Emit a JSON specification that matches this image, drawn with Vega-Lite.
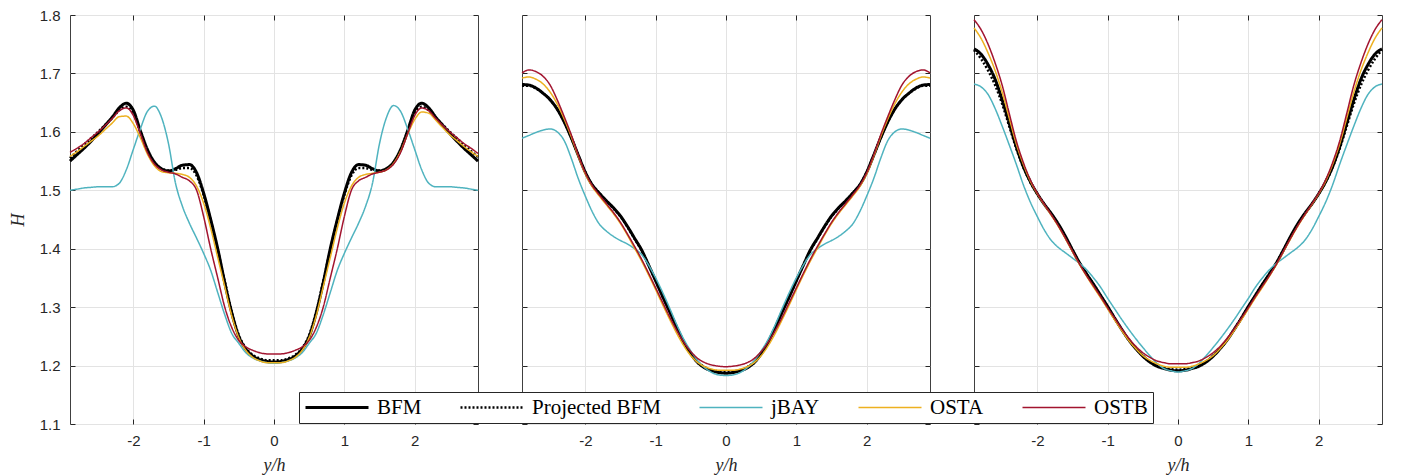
{
"$schema":"https://vega.github.io/schema/vega-lite/v6.json",
"background":"white",
"padding":{"left":8,"top":7,"right":5,"bottom":0},
"spacing":44,
"bounds":"flush",
"config":{
 "view":{"stroke":"#404040","strokeWidth":1},
 "axis":{"labelFont":"Liberation Sans","labelFontSize":15,"labelColor":"#262626","tickColor":"#262626","tickSize":-5,"domain":false,"gridColor":"#e3e3e3","gridWidth":1,"titleFont":"Liberation Serif","titleFontStyle":"italic","titleFontWeight":"normal","titleFontSize":18,"titleColor":"#262626"},
 "legend":{"orient":"none","legendX":229,"legendY":377,"direction":"horizontal","columns":5,"symbolType":"stroke","symbolSize":3969,"clipHeight":21,"labelFont":"Liberation Serif","labelFontSize":21,"labelColor":"black","strokeColor":"#262626","fillColor":"white","padding":5,"columnPadding":37,"labelOffset":7,"title":null},
 "line":{"interpolate":"monotone"}
},
"datasets":{"d":[
{"p":1,"x":-2.9,"BFM":1.550,"Projected BFM":1.555,"jBAY":1.500,"OSTA":1.558,"OSTB":1.565},
{"p":1,"x":-2.8,"BFM":1.561,"Projected BFM":1.567,"jBAY":1.502,"OSTA":1.566,"OSTB":1.572},
{"p":1,"x":-2.7,"BFM":1.572,"Projected BFM":1.578,"jBAY":1.504,"OSTA":1.575,"OSTB":1.580},
{"p":1,"x":-2.6,"BFM":1.584,"Projected BFM":1.589,"jBAY":1.505,"OSTA":1.584,"OSTB":1.590},
{"p":1,"x":-2.5,"BFM":1.597,"Projected BFM":1.600,"jBAY":1.506,"OSTA":1.593,"OSTB":1.600},
{"p":1,"x":-2.4,"BFM":1.611,"Projected BFM":1.612,"jBAY":1.506,"OSTA":1.604,"OSTB":1.611},
{"p":1,"x":-2.3,"BFM":1.625,"Projected BFM":1.624,"jBAY":1.506,"OSTA":1.615,"OSTB":1.623},
{"p":1,"x":-2.2,"BFM":1.641,"Projected BFM":1.637,"jBAY":1.512,"OSTA":1.626,"OSTB":1.636},
{"p":1,"x":-2.1,"BFM":1.649,"Projected BFM":1.643,"jBAY":1.535,"OSTA":1.627,"OSTB":1.641},
{"p":1,"x":-2.0,"BFM":1.637,"Projected BFM":1.632,"jBAY":1.570,"OSTA":1.614,"OSTB":1.628},
{"p":1,"x":-1.9,"BFM":1.602,"Projected BFM":1.600,"jBAY":1.605,"OSTA":1.590,"OSTB":1.597},
{"p":1,"x":-1.8,"BFM":1.570,"Projected BFM":1.568,"jBAY":1.635,"OSTA":1.562,"OSTB":1.565},
{"p":1,"x":-1.7,"BFM":1.548,"Projected BFM":1.547,"jBAY":1.644,"OSTA":1.542,"OSTB":1.545},
{"p":1,"x":-1.6,"BFM":1.537,"Projected BFM":1.537,"jBAY":1.625,"OSTA":1.532,"OSTB":1.535},
{"p":1,"x":-1.5,"BFM":1.533,"Projected BFM":1.534,"jBAY":1.580,"OSTA":1.530,"OSTB":1.531},
{"p":1,"x":-1.4,"BFM":1.537,"Projected BFM":1.535,"jBAY":1.512,"OSTA":1.529,"OSTB":1.528},
{"p":1,"x":-1.3,"BFM":1.543,"Projected BFM":1.538,"jBAY":1.472,"OSTA":1.527,"OSTB":1.522},
{"p":1,"x":-1.2,"BFM":1.544,"Projected BFM":1.538,"jBAY":1.443,"OSTA":1.522,"OSTB":1.516},
{"p":1,"x":-1.1,"BFM":1.530,"Projected BFM":1.525,"jBAY":1.418,"OSTA":1.507,"OSTB":1.500},
{"p":1,"x":-1.0,"BFM":1.495,"Projected BFM":1.492,"jBAY":1.392,"OSTA":1.478,"OSTB":1.455},
{"p":1,"x":-0.9,"BFM":1.450,"Projected BFM":1.448,"jBAY":1.363,"OSTA":1.435,"OSTB":1.400},
{"p":1,"x":-0.8,"BFM":1.400,"Projected BFM":1.398,"jBAY":1.325,"OSTA":1.385,"OSTB":1.350},
{"p":1,"x":-0.7,"BFM":1.342,"Projected BFM":1.344,"jBAY":1.287,"OSTA":1.335,"OSTB":1.300},
{"p":1,"x":-0.6,"BFM":1.290,"Projected BFM":1.292,"jBAY":1.255,"OSTA":1.285,"OSTB":1.265},
{"p":1,"x":-0.5,"BFM":1.250,"Projected BFM":1.252,"jBAY":1.238,"OSTA":1.248,"OSTB":1.243},
{"p":1,"x":-0.4,"BFM":1.228,"Projected BFM":1.230,"jBAY":1.222,"OSTA":1.226,"OSTB":1.232},
{"p":1,"x":-0.3,"BFM":1.216,"Projected BFM":1.218,"jBAY":1.213,"OSTA":1.214,"OSTB":1.226},
{"p":1,"x":-0.2,"BFM":1.210,"Projected BFM":1.212,"jBAY":1.208,"OSTA":1.208,"OSTB":1.222},
{"p":1,"x":-0.1,"BFM":1.207,"Projected BFM":1.209,"jBAY":1.205,"OSTA":1.205,"OSTB":1.220},
{"p":1,"x":0.0,"BFM":1.206,"Projected BFM":1.209,"jBAY":1.204,"OSTA":1.205,"OSTB":1.220},
{"p":1,"x":0.1,"BFM":1.207,"Projected BFM":1.209,"jBAY":1.205,"OSTA":1.205,"OSTB":1.220},
{"p":1,"x":0.2,"BFM":1.210,"Projected BFM":1.212,"jBAY":1.208,"OSTA":1.208,"OSTB":1.222},
{"p":1,"x":0.3,"BFM":1.216,"Projected BFM":1.218,"jBAY":1.213,"OSTA":1.214,"OSTB":1.226},
{"p":1,"x":0.4,"BFM":1.228,"Projected BFM":1.230,"jBAY":1.222,"OSTA":1.226,"OSTB":1.232},
{"p":1,"x":0.5,"BFM":1.250,"Projected BFM":1.252,"jBAY":1.238,"OSTA":1.248,"OSTB":1.243},
{"p":1,"x":0.6,"BFM":1.290,"Projected BFM":1.292,"jBAY":1.255,"OSTA":1.285,"OSTB":1.265},
{"p":1,"x":0.7,"BFM":1.342,"Projected BFM":1.344,"jBAY":1.287,"OSTA":1.335,"OSTB":1.300},
{"p":1,"x":0.8,"BFM":1.400,"Projected BFM":1.398,"jBAY":1.325,"OSTA":1.385,"OSTB":1.350},
{"p":1,"x":0.9,"BFM":1.450,"Projected BFM":1.448,"jBAY":1.363,"OSTA":1.435,"OSTB":1.400},
{"p":1,"x":1.0,"BFM":1.495,"Projected BFM":1.492,"jBAY":1.392,"OSTA":1.478,"OSTB":1.455},
{"p":1,"x":1.1,"BFM":1.530,"Projected BFM":1.525,"jBAY":1.418,"OSTA":1.507,"OSTB":1.500},
{"p":1,"x":1.2,"BFM":1.544,"Projected BFM":1.538,"jBAY":1.443,"OSTA":1.522,"OSTB":1.516},
{"p":1,"x":1.3,"BFM":1.543,"Projected BFM":1.538,"jBAY":1.472,"OSTA":1.527,"OSTB":1.522},
{"p":1,"x":1.4,"BFM":1.537,"Projected BFM":1.535,"jBAY":1.512,"OSTA":1.529,"OSTB":1.528},
{"p":1,"x":1.5,"BFM":1.533,"Projected BFM":1.534,"jBAY":1.580,"OSTA":1.531,"OSTB":1.531},
{"p":1,"x":1.6,"BFM":1.537,"Projected BFM":1.537,"jBAY":1.625,"OSTA":1.535,"OSTB":1.535},
{"p":1,"x":1.7,"BFM":1.548,"Projected BFM":1.547,"jBAY":1.645,"OSTA":1.546,"OSTB":1.545},
{"p":1,"x":1.8,"BFM":1.570,"Projected BFM":1.568,"jBAY":1.635,"OSTA":1.567,"OSTB":1.565},
{"p":1,"x":1.9,"BFM":1.602,"Projected BFM":1.600,"jBAY":1.605,"OSTA":1.596,"OSTB":1.597},
{"p":1,"x":2.0,"BFM":1.637,"Projected BFM":1.632,"jBAY":1.570,"OSTA":1.621,"OSTB":1.628},
{"p":1,"x":2.1,"BFM":1.649,"Projected BFM":1.643,"jBAY":1.535,"OSTA":1.634,"OSTB":1.641},
{"p":1,"x":2.2,"BFM":1.641,"Projected BFM":1.637,"jBAY":1.512,"OSTA":1.632,"OSTB":1.636},
{"p":1,"x":2.3,"BFM":1.625,"Projected BFM":1.624,"jBAY":1.506,"OSTA":1.620,"OSTB":1.623},
{"p":1,"x":2.4,"BFM":1.611,"Projected BFM":1.612,"jBAY":1.506,"OSTA":1.607,"OSTB":1.611},
{"p":1,"x":2.5,"BFM":1.597,"Projected BFM":1.600,"jBAY":1.506,"OSTA":1.595,"OSTB":1.600},
{"p":1,"x":2.6,"BFM":1.584,"Projected BFM":1.589,"jBAY":1.505,"OSTA":1.585,"OSTB":1.590},
{"p":1,"x":2.7,"BFM":1.572,"Projected BFM":1.578,"jBAY":1.504,"OSTA":1.575,"OSTB":1.580},
{"p":1,"x":2.8,"BFM":1.561,"Projected BFM":1.567,"jBAY":1.502,"OSTA":1.566,"OSTB":1.572},
{"p":1,"x":2.9,"BFM":1.550,"Projected BFM":1.557,"jBAY":1.500,"OSTA":1.558,"OSTB":1.563},
{"p":2,"x":-2.9,"BFM":1.681,"Projected BFM":1.679,"jBAY":1.589,"OSTA":1.692,"OSTB":1.701},
{"p":2,"x":-2.8,"BFM":1.680,"Projected BFM":1.679,"jBAY":1.594,"OSTA":1.694,"OSTB":1.706},
{"p":2,"x":-2.7,"BFM":1.675,"Projected BFM":1.674,"jBAY":1.599,"OSTA":1.690,"OSTB":1.703},
{"p":2,"x":-2.6,"BFM":1.666,"Projected BFM":1.666,"jBAY":1.603,"OSTA":1.682,"OSTB":1.695},
{"p":2,"x":-2.5,"BFM":1.655,"Projected BFM":1.655,"jBAY":1.605,"OSTA":1.668,"OSTB":1.680},
{"p":2,"x":-2.4,"BFM":1.639,"Projected BFM":1.639,"jBAY":1.600,"OSTA":1.648,"OSTB":1.655},
{"p":2,"x":-2.3,"BFM":1.617,"Projected BFM":1.617,"jBAY":1.585,"OSTA":1.622,"OSTB":1.626},
{"p":2,"x":-2.2,"BFM":1.590,"Projected BFM":1.590,"jBAY":1.555,"OSTA":1.592,"OSTB":1.595},
{"p":2,"x":-2.1,"BFM":1.560,"Projected BFM":1.560,"jBAY":1.520,"OSTA":1.558,"OSTB":1.560},
{"p":2,"x":-2.0,"BFM":1.531,"Projected BFM":1.531,"jBAY":1.490,"OSTA":1.528,"OSTB":1.530},
{"p":2,"x":-1.9,"BFM":1.509,"Projected BFM":1.509,"jBAY":1.463,"OSTA":1.506,"OSTB":1.508},
{"p":2,"x":-1.8,"BFM":1.495,"Projected BFM":1.495,"jBAY":1.442,"OSTA":1.490,"OSTB":1.492},
{"p":2,"x":-1.7,"BFM":1.482,"Projected BFM":1.482,"jBAY":1.430,"OSTA":1.475,"OSTB":1.477},
{"p":2,"x":-1.6,"BFM":1.470,"Projected BFM":1.469,"jBAY":1.421,"OSTA":1.460,"OSTB":1.462},
{"p":2,"x":-1.5,"BFM":1.456,"Projected BFM":1.455,"jBAY":1.414,"OSTA":1.443,"OSTB":1.445},
{"p":2,"x":-1.4,"BFM":1.438,"Projected BFM":1.437,"jBAY":1.408,"OSTA":1.423,"OSTB":1.425},
{"p":2,"x":-1.3,"BFM":1.418,"Projected BFM":1.417,"jBAY":1.400,"OSTA":1.401,"OSTB":1.404},
{"p":2,"x":-1.2,"BFM":1.398,"Projected BFM":1.397,"jBAY":1.390,"OSTA":1.379,"OSTB":1.382},
{"p":2,"x":-1.1,"BFM":1.372,"Projected BFM":1.372,"jBAY":1.372,"OSTA":1.355,"OSTB":1.358},
{"p":2,"x":-1.0,"BFM":1.345,"Projected BFM":1.345,"jBAY":1.350,"OSTA":1.330,"OSTB":1.333},
{"p":2,"x":-0.9,"BFM":1.318,"Projected BFM":1.318,"jBAY":1.325,"OSTA":1.304,"OSTB":1.308},
{"p":2,"x":-0.8,"BFM":1.292,"Projected BFM":1.292,"jBAY":1.298,"OSTA":1.279,"OSTB":1.283},
{"p":2,"x":-0.7,"BFM":1.265,"Projected BFM":1.266,"jBAY":1.270,"OSTA":1.255,"OSTB":1.260},
{"p":2,"x":-0.6,"BFM":1.240,"Projected BFM":1.241,"jBAY":1.245,"OSTA":1.234,"OSTB":1.240},
{"p":2,"x":-0.5,"BFM":1.220,"Projected BFM":1.221,"jBAY":1.225,"OSTA":1.217,"OSTB":1.224},
{"p":2,"x":-0.4,"BFM":1.205,"Projected BFM":1.206,"jBAY":1.208,"OSTA":1.205,"OSTB":1.212},
{"p":2,"x":-0.3,"BFM":1.196,"Projected BFM":1.197,"jBAY":1.196,"OSTA":1.198,"OSTB":1.205},
{"p":2,"x":-0.2,"BFM":1.191,"Projected BFM":1.192,"jBAY":1.188,"OSTA":1.194,"OSTB":1.201},
{"p":2,"x":-0.1,"BFM":1.188,"Projected BFM":1.190,"jBAY":1.184,"OSTA":1.192,"OSTB":1.199},
{"p":2,"x":0.0,"BFM":1.187,"Projected BFM":1.189,"jBAY":1.183,"OSTA":1.192,"OSTB":1.198},
{"p":2,"x":0.1,"BFM":1.188,"Projected BFM":1.190,"jBAY":1.184,"OSTA":1.192,"OSTB":1.199},
{"p":2,"x":0.2,"BFM":1.191,"Projected BFM":1.192,"jBAY":1.188,"OSTA":1.194,"OSTB":1.201},
{"p":2,"x":0.3,"BFM":1.196,"Projected BFM":1.197,"jBAY":1.196,"OSTA":1.198,"OSTB":1.205},
{"p":2,"x":0.4,"BFM":1.205,"Projected BFM":1.206,"jBAY":1.208,"OSTA":1.205,"OSTB":1.212},
{"p":2,"x":0.5,"BFM":1.220,"Projected BFM":1.221,"jBAY":1.225,"OSTA":1.217,"OSTB":1.224},
{"p":2,"x":0.6,"BFM":1.240,"Projected BFM":1.241,"jBAY":1.245,"OSTA":1.234,"OSTB":1.240},
{"p":2,"x":0.7,"BFM":1.265,"Projected BFM":1.266,"jBAY":1.270,"OSTA":1.255,"OSTB":1.260},
{"p":2,"x":0.8,"BFM":1.292,"Projected BFM":1.292,"jBAY":1.298,"OSTA":1.279,"OSTB":1.283},
{"p":2,"x":0.9,"BFM":1.318,"Projected BFM":1.318,"jBAY":1.325,"OSTA":1.304,"OSTB":1.308},
{"p":2,"x":1.0,"BFM":1.345,"Projected BFM":1.345,"jBAY":1.350,"OSTA":1.330,"OSTB":1.333},
{"p":2,"x":1.1,"BFM":1.372,"Projected BFM":1.372,"jBAY":1.372,"OSTA":1.355,"OSTB":1.358},
{"p":2,"x":1.2,"BFM":1.398,"Projected BFM":1.397,"jBAY":1.390,"OSTA":1.379,"OSTB":1.382},
{"p":2,"x":1.3,"BFM":1.418,"Projected BFM":1.417,"jBAY":1.400,"OSTA":1.401,"OSTB":1.404},
{"p":2,"x":1.4,"BFM":1.438,"Projected BFM":1.437,"jBAY":1.408,"OSTA":1.423,"OSTB":1.425},
{"p":2,"x":1.5,"BFM":1.456,"Projected BFM":1.455,"jBAY":1.414,"OSTA":1.443,"OSTB":1.445},
{"p":2,"x":1.6,"BFM":1.470,"Projected BFM":1.469,"jBAY":1.421,"OSTA":1.460,"OSTB":1.462},
{"p":2,"x":1.7,"BFM":1.482,"Projected BFM":1.482,"jBAY":1.430,"OSTA":1.475,"OSTB":1.477},
{"p":2,"x":1.8,"BFM":1.495,"Projected BFM":1.495,"jBAY":1.442,"OSTA":1.490,"OSTB":1.492},
{"p":2,"x":1.9,"BFM":1.509,"Projected BFM":1.509,"jBAY":1.463,"OSTA":1.506,"OSTB":1.508},
{"p":2,"x":2.0,"BFM":1.531,"Projected BFM":1.531,"jBAY":1.490,"OSTA":1.528,"OSTB":1.530},
{"p":2,"x":2.1,"BFM":1.560,"Projected BFM":1.560,"jBAY":1.520,"OSTA":1.558,"OSTB":1.560},
{"p":2,"x":2.2,"BFM":1.590,"Projected BFM":1.590,"jBAY":1.555,"OSTA":1.592,"OSTB":1.595},
{"p":2,"x":2.3,"BFM":1.617,"Projected BFM":1.617,"jBAY":1.585,"OSTA":1.622,"OSTB":1.626},
{"p":2,"x":2.4,"BFM":1.639,"Projected BFM":1.639,"jBAY":1.600,"OSTA":1.648,"OSTB":1.655},
{"p":2,"x":2.5,"BFM":1.655,"Projected BFM":1.655,"jBAY":1.605,"OSTA":1.668,"OSTB":1.680},
{"p":2,"x":2.6,"BFM":1.666,"Projected BFM":1.666,"jBAY":1.603,"OSTA":1.682,"OSTB":1.695},
{"p":2,"x":2.7,"BFM":1.675,"Projected BFM":1.674,"jBAY":1.599,"OSTA":1.690,"OSTB":1.703},
{"p":2,"x":2.8,"BFM":1.680,"Projected BFM":1.679,"jBAY":1.594,"OSTA":1.694,"OSTB":1.706},
{"p":2,"x":2.9,"BFM":1.681,"Projected BFM":1.679,"jBAY":1.589,"OSTA":1.692,"OSTB":1.701},
{"p":3,"x":-2.9,"BFM":1.742,"Projected BFM":1.740,"jBAY":1.682,"OSTA":1.778,"OSTB":1.792},
{"p":3,"x":-2.8,"BFM":1.733,"Projected BFM":1.725,"jBAY":1.677,"OSTA":1.760,"OSTB":1.775},
{"p":3,"x":-2.7,"BFM":1.715,"Projected BFM":1.705,"jBAY":1.664,"OSTA":1.735,"OSTB":1.750},
{"p":3,"x":-2.6,"BFM":1.690,"Projected BFM":1.680,"jBAY":1.640,"OSTA":1.705,"OSTB":1.718},
{"p":3,"x":-2.5,"BFM":1.655,"Projected BFM":1.648,"jBAY":1.610,"OSTA":1.668,"OSTB":1.680},
{"p":3,"x":-2.4,"BFM":1.615,"Projected BFM":1.610,"jBAY":1.578,"OSTA":1.624,"OSTB":1.632},
{"p":3,"x":-2.3,"BFM":1.575,"Projected BFM":1.572,"jBAY":1.545,"OSTA":1.580,"OSTB":1.585},
{"p":3,"x":-2.2,"BFM":1.541,"Projected BFM":1.540,"jBAY":1.510,"OSTA":1.545,"OSTB":1.548},
{"p":3,"x":-2.1,"BFM":1.515,"Projected BFM":1.514,"jBAY":1.480,"OSTA":1.516,"OSTB":1.518},
{"p":3,"x":-2.0,"BFM":1.494,"Projected BFM":1.494,"jBAY":1.455,"OSTA":1.494,"OSTB":1.495},
{"p":3,"x":-1.9,"BFM":1.476,"Projected BFM":1.476,"jBAY":1.432,"OSTA":1.475,"OSTB":1.476},
{"p":3,"x":-1.8,"BFM":1.460,"Projected BFM":1.459,"jBAY":1.414,"OSTA":1.457,"OSTB":1.458},
{"p":3,"x":-1.7,"BFM":1.442,"Projected BFM":1.441,"jBAY":1.402,"OSTA":1.438,"OSTB":1.439},
{"p":3,"x":-1.6,"BFM":1.421,"Projected BFM":1.420,"jBAY":1.393,"OSTA":1.417,"OSTB":1.418},
{"p":3,"x":-1.5,"BFM":1.398,"Projected BFM":1.398,"jBAY":1.384,"OSTA":1.395,"OSTB":1.396},
{"p":3,"x":-1.4,"BFM":1.376,"Projected BFM":1.376,"jBAY":1.375,"OSTA":1.373,"OSTB":1.374},
{"p":3,"x":-1.3,"BFM":1.357,"Projected BFM":1.357,"jBAY":1.364,"OSTA":1.353,"OSTB":1.354},
{"p":3,"x":-1.2,"BFM":1.339,"Projected BFM":1.339,"jBAY":1.350,"OSTA":1.334,"OSTB":1.336},
{"p":3,"x":-1.1,"BFM":1.320,"Projected BFM":1.320,"jBAY":1.334,"OSTA":1.316,"OSTB":1.318},
{"p":3,"x":-1.0,"BFM":1.301,"Projected BFM":1.301,"jBAY":1.315,"OSTA":1.297,"OSTB":1.299},
{"p":3,"x":-0.9,"BFM":1.281,"Projected BFM":1.281,"jBAY":1.297,"OSTA":1.278,"OSTB":1.281},
{"p":3,"x":-0.8,"BFM":1.262,"Projected BFM":1.262,"jBAY":1.279,"OSTA":1.260,"OSTB":1.263},
{"p":3,"x":-0.7,"BFM":1.244,"Projected BFM":1.244,"jBAY":1.262,"OSTA":1.243,"OSTB":1.247},
{"p":3,"x":-0.6,"BFM":1.229,"Projected BFM":1.229,"jBAY":1.246,"OSTA":1.229,"OSTB":1.233},
{"p":3,"x":-0.5,"BFM":1.216,"Projected BFM":1.217,"jBAY":1.231,"OSTA":1.217,"OSTB":1.222},
{"p":3,"x":-0.4,"BFM":1.206,"Projected BFM":1.207,"jBAY":1.217,"OSTA":1.209,"OSTB":1.214},
{"p":3,"x":-0.3,"BFM":1.199,"Projected BFM":1.200,"jBAY":1.204,"OSTA":1.203,"OSTB":1.208},
{"p":3,"x":-0.2,"BFM":1.195,"Projected BFM":1.196,"jBAY":1.195,"OSTA":1.199,"OSTB":1.205},
{"p":3,"x":-0.1,"BFM":1.192,"Projected BFM":1.194,"jBAY":1.191,"OSTA":1.197,"OSTB":1.203},
{"p":3,"x":0.0,"BFM":1.191,"Projected BFM":1.193,"jBAY":1.189,"OSTA":1.197,"OSTB":1.203},
{"p":3,"x":0.1,"BFM":1.192,"Projected BFM":1.194,"jBAY":1.191,"OSTA":1.197,"OSTB":1.203},
{"p":3,"x":0.2,"BFM":1.195,"Projected BFM":1.196,"jBAY":1.195,"OSTA":1.199,"OSTB":1.205},
{"p":3,"x":0.3,"BFM":1.199,"Projected BFM":1.200,"jBAY":1.204,"OSTA":1.203,"OSTB":1.208},
{"p":3,"x":0.4,"BFM":1.206,"Projected BFM":1.207,"jBAY":1.217,"OSTA":1.209,"OSTB":1.214},
{"p":3,"x":0.5,"BFM":1.216,"Projected BFM":1.217,"jBAY":1.231,"OSTA":1.217,"OSTB":1.222},
{"p":3,"x":0.6,"BFM":1.229,"Projected BFM":1.229,"jBAY":1.246,"OSTA":1.229,"OSTB":1.233},
{"p":3,"x":0.7,"BFM":1.244,"Projected BFM":1.244,"jBAY":1.262,"OSTA":1.243,"OSTB":1.247},
{"p":3,"x":0.8,"BFM":1.262,"Projected BFM":1.262,"jBAY":1.279,"OSTA":1.260,"OSTB":1.263},
{"p":3,"x":0.9,"BFM":1.281,"Projected BFM":1.281,"jBAY":1.297,"OSTA":1.278,"OSTB":1.281},
{"p":3,"x":1.0,"BFM":1.301,"Projected BFM":1.301,"jBAY":1.315,"OSTA":1.297,"OSTB":1.299},
{"p":3,"x":1.1,"BFM":1.320,"Projected BFM":1.320,"jBAY":1.334,"OSTA":1.316,"OSTB":1.318},
{"p":3,"x":1.2,"BFM":1.339,"Projected BFM":1.339,"jBAY":1.350,"OSTA":1.334,"OSTB":1.336},
{"p":3,"x":1.3,"BFM":1.357,"Projected BFM":1.357,"jBAY":1.364,"OSTA":1.353,"OSTB":1.354},
{"p":3,"x":1.4,"BFM":1.376,"Projected BFM":1.376,"jBAY":1.375,"OSTA":1.373,"OSTB":1.374},
{"p":3,"x":1.5,"BFM":1.398,"Projected BFM":1.398,"jBAY":1.384,"OSTA":1.395,"OSTB":1.396},
{"p":3,"x":1.6,"BFM":1.421,"Projected BFM":1.420,"jBAY":1.393,"OSTA":1.417,"OSTB":1.418},
{"p":3,"x":1.7,"BFM":1.442,"Projected BFM":1.441,"jBAY":1.402,"OSTA":1.438,"OSTB":1.439},
{"p":3,"x":1.8,"BFM":1.460,"Projected BFM":1.459,"jBAY":1.414,"OSTA":1.457,"OSTB":1.458},
{"p":3,"x":1.9,"BFM":1.476,"Projected BFM":1.476,"jBAY":1.432,"OSTA":1.475,"OSTB":1.476},
{"p":3,"x":2.0,"BFM":1.494,"Projected BFM":1.494,"jBAY":1.455,"OSTA":1.494,"OSTB":1.495},
{"p":3,"x":2.1,"BFM":1.515,"Projected BFM":1.514,"jBAY":1.480,"OSTA":1.516,"OSTB":1.518},
{"p":3,"x":2.2,"BFM":1.541,"Projected BFM":1.540,"jBAY":1.510,"OSTA":1.545,"OSTB":1.548},
{"p":3,"x":2.3,"BFM":1.575,"Projected BFM":1.572,"jBAY":1.545,"OSTA":1.580,"OSTB":1.585},
{"p":3,"x":2.4,"BFM":1.615,"Projected BFM":1.610,"jBAY":1.578,"OSTA":1.624,"OSTB":1.632},
{"p":3,"x":2.5,"BFM":1.655,"Projected BFM":1.648,"jBAY":1.610,"OSTA":1.668,"OSTB":1.680},
{"p":3,"x":2.6,"BFM":1.690,"Projected BFM":1.680,"jBAY":1.640,"OSTA":1.705,"OSTB":1.718},
{"p":3,"x":2.7,"BFM":1.715,"Projected BFM":1.705,"jBAY":1.664,"OSTA":1.735,"OSTB":1.750},
{"p":3,"x":2.8,"BFM":1.733,"Projected BFM":1.725,"jBAY":1.677,"OSTA":1.760,"OSTB":1.775},
{"p":3,"x":2.9,"BFM":1.742,"Projected BFM":1.740,"jBAY":1.682,"OSTA":1.778,"OSTB":1.792}
]},
"hconcat":[
{"width":408,"height":409,"data":{"name":"d"},
 "transform":[{"filter":"datum.p==1"},{"fold":["BFM","Projected BFM","jBAY","OSTA","OSTB"],"as":["s","h"]}],
 "layer":[
  {"mark":{"type":"line"},
   "encoding":{
    "x":{"field":"x","type":"quantitative","scale":{"domain":[-2.9,2.9],"nice":false,"zero":false},"axis":{"values":[-2,-1,0,1,2],"labelExpr":"replace(datum.label,'−','-')","title":"y/h","labelPadding":14,"titlePadding":8}},
    "y":{"field":"h","type":"quantitative","scale":{"domain":[1.1,1.8],"nice":false,"zero":false},"axis":{"values":[1.1,1.2,1.3,1.4,1.5,1.6,1.7,1.8],"format":".1f","title":"H","labelPadding":15,"titlePadding":12}},
    "color":{"field":"s","type":"nominal","scale":{"domain":["BFM","Projected BFM","jBAY","OSTA","OSTB"],"range":["#000000","#000000","#4FB3BF","#EDB120","#A2142F"]},"legend":{"title":null}},
    "strokeDash":{"field":"s","type":"nominal","scale":{"domain":["BFM","Projected BFM","jBAY","OSTA","OSTB"],"range":[[1,0],[2,2],[1,0],[1,0],[1,0]]},"legend":{"title":null}},
    "strokeWidth":{"field":"s","type":"nominal","scale":{"type":"ordinal","domain":["BFM","Projected BFM","jBAY","OSTA","OSTB"],"range":[3,2.5,1.5,1.5,1.5]},"legend":{"title":null}}
   }},
  {"mark":{"type":"point","opacity":0},
   "encoding":{
    "x":{"field":"x","type":"quantitative","axis":{"orient":"top","values":[-2,-1,0,1,2],"labels":false,"title":null,"grid":false}},
    "y":{"field":"h","type":"quantitative","axis":{"orient":"right","values":[1.1,1.2,1.3,1.4,1.5,1.6,1.7,1.8],"labels":false,"title":null,"grid":false}}
   }}
 ],
 "resolve":{"axis":{"x":"independent","y":"independent"}}
},
{"width":408,"height":409,"data":{"name":"d"},
 "transform":[{"filter":"datum.p==2"},{"fold":["BFM","Projected BFM","jBAY","OSTA","OSTB"],"as":["s","h"]}],
 "layer":[
  {"mark":{"type":"line"},
   "encoding":{
    "x":{"field":"x","type":"quantitative","scale":{"domain":[-2.9,2.9],"nice":false,"zero":false},"axis":{"values":[-2,-1,0,1,2],"labelExpr":"replace(datum.label,'−','-')","title":"y/h","labelPadding":14,"titlePadding":8}},
    "y":{"field":"h","type":"quantitative","scale":{"domain":[1.1,1.8],"nice":false,"zero":false},"axis":{"values":[1.1,1.2,1.3,1.4,1.5,1.6,1.7,1.8],"labels":false,"title":null}},
    "color":{"field":"s","type":"nominal","scale":{"domain":["BFM","Projected BFM","jBAY","OSTA","OSTB"],"range":["#000000","#000000","#4FB3BF","#EDB120","#A2142F"]},"legend":{"title":null}},
    "strokeDash":{"field":"s","type":"nominal","scale":{"domain":["BFM","Projected BFM","jBAY","OSTA","OSTB"],"range":[[1,0],[2,2],[1,0],[1,0],[1,0]]},"legend":{"title":null}},
    "strokeWidth":{"field":"s","type":"nominal","scale":{"type":"ordinal","domain":["BFM","Projected BFM","jBAY","OSTA","OSTB"],"range":[3,2.5,1.5,1.5,1.5]},"legend":{"title":null}}
   }},
  {"mark":{"type":"point","opacity":0},
   "encoding":{
    "x":{"field":"x","type":"quantitative","axis":{"orient":"top","values":[-2,-1,0,1,2],"labels":false,"title":null,"grid":false}},
    "y":{"field":"h","type":"quantitative","axis":{"orient":"right","values":[1.1,1.2,1.3,1.4,1.5,1.6,1.7,1.8],"labels":false,"title":null,"grid":false}}
   }}
 ],
 "resolve":{"axis":{"x":"independent","y":"independent"}}
},
{"width":408,"height":409,"data":{"name":"d"},
 "transform":[{"filter":"datum.p==3"},{"fold":["BFM","Projected BFM","jBAY","OSTA","OSTB"],"as":["s","h"]}],
 "layer":[
  {"mark":{"type":"line"},
   "encoding":{
    "x":{"field":"x","type":"quantitative","scale":{"domain":[-2.9,2.9],"nice":false,"zero":false},"axis":{"values":[-2,-1,0,1,2],"labelExpr":"replace(datum.label,'−','-')","title":"y/h","labelPadding":14,"titlePadding":8}},
    "y":{"field":"h","type":"quantitative","scale":{"domain":[1.1,1.8],"nice":false,"zero":false},"axis":{"values":[1.1,1.2,1.3,1.4,1.5,1.6,1.7,1.8],"labels":false,"title":null}},
    "color":{"field":"s","type":"nominal","scale":{"domain":["BFM","Projected BFM","jBAY","OSTA","OSTB"],"range":["#000000","#000000","#4FB3BF","#EDB120","#A2142F"]},"legend":{"title":null}},
    "strokeDash":{"field":"s","type":"nominal","scale":{"domain":["BFM","Projected BFM","jBAY","OSTA","OSTB"],"range":[[1,0],[2,2],[1,0],[1,0],[1,0]]},"legend":{"title":null}},
    "strokeWidth":{"field":"s","type":"nominal","scale":{"type":"ordinal","domain":["BFM","Projected BFM","jBAY","OSTA","OSTB"],"range":[3,2.5,1.5,1.5,1.5]},"legend":{"title":null}}
   }},
  {"mark":{"type":"point","opacity":0},
   "encoding":{
    "x":{"field":"x","type":"quantitative","axis":{"orient":"top","values":[-2,-1,0,1,2],"labels":false,"title":null,"grid":false}},
    "y":{"field":"h","type":"quantitative","axis":{"orient":"right","values":[1.1,1.2,1.3,1.4,1.5,1.6,1.7,1.8],"labels":false,"title":null,"grid":false}}
   }}
 ],
 "resolve":{"axis":{"x":"independent","y":"independent"}}
}
]
}
